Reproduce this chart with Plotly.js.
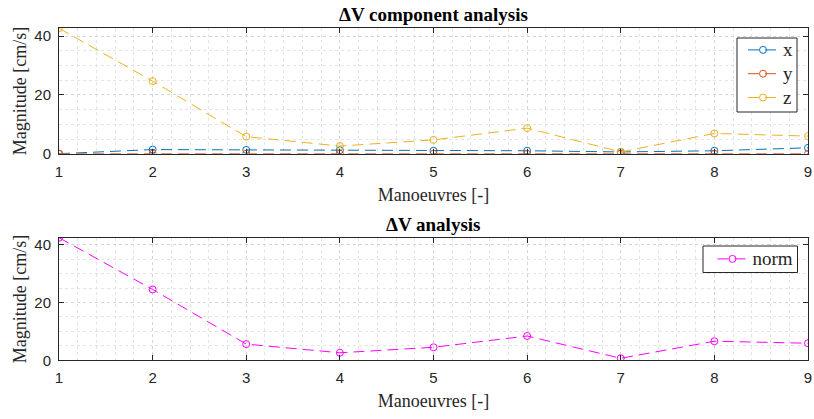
<!DOCTYPE html>
<html>
<head>
<meta charset="utf-8">
<script src="https://cdn.plot.ly/plotly-3.0.1.min.js"></script>
<style>
  html, body { margin: 0; padding: 0; background: #ffffff; }
  #chart { width: 814px; height: 419px; }
</style>
</head>
<body>
<div id="chart"></div>
<script>
// Manoeuvre index
const manoeuvres = [1, 2, 3, 4, 5, 6, 7, 8, 9];

// Delta-V components [cm/s]
const dvX = [0.0, 1.4, 1.3, 1.2, 1.0, 1.0, 0.6, 1.0, 2.0];
const dvY = [0.0, 0.0, 0.0, 0.0, 0.0, 0.0, 0.0, 0.0, 0.0];
const dvZ = [42.7, 24.7, 5.8, 2.6, 4.7, 8.7, 0.6, 6.9, 6.0];

// Delta-V magnitude [cm/s]
const dvNorm = [42.4, 24.5, 5.6, 2.6, 4.5, 8.4, 0.7, 6.6, 5.9];

// Tick labels
const xTicks = [1, 2, 3, 4, 5, 6, 7, 8, 9];
const yTicks = [0, 20, 40];

const serif = '"Liberation Serif", "Times New Roman", serif';
const sans = '"Liberation Sans", Arial, sans-serif';
const ink = '#262626';
const W = 814, H = 419;

// legend entries: slightly larger glyphs than the row spacing font
const big = s => '<span style="font-size:19px">' + s + '</span>';

function dashedTrace(y, name, color, xa, ya, legend) {
  return {
    x: manoeuvres, y: y, name: big(name), type: 'scatter', mode: 'lines+markers',
    xaxis: xa, yaxis: ya, legend: legend,
    line: { color: color, width: 1, dash: '11px,6px' },
    marker: { symbol: 'circle-open', size: 7, color: color, line: { width: 1, color: color } }
  };
}

const traces = [
  dashedTrace(dvX, 'x', '#0072BD', 'x', 'y', 'legend'),
  dashedTrace(dvY, 'y', '#D95319', 'x', 'y', 'legend'),
  dashedTrace(dvZ, 'z', '#EDB120', 'x', 'y', 'legend'),
  dashedTrace(dvNorm, 'norm', '#FF00FF', 'x2', 'y2', 'legend2')
];

function xAxis(anchor) {
  return {
    anchor: anchor, domain: [59 / W, 808 / W],
    range: [1, 9], tickvals: xTicks, ticktext: xTicks.map(String),
    ticks: 'inside', ticklen: 5, tickcolor: ink, tickwidth: 1,
    showline: true, linecolor: ink, linewidth: 1, mirror: 'ticks',
    showgrid: true, gridcolor: '#d4d4d4', griddash: 'dot', gridwidth: 1,
    minor: { dtick: 0.2, tick0: 1, showgrid: true, gridcolor: '#e4e4e4', griddash: 'dot', ticks: '' },
    zeroline: false, automargin: false,
    tickfont: { family: sans, size: 15, color: ink },
    ticklabelstandoff: 4,
    title: { text: 'Manoeuvres [-]', font: { family: serif, size: 18, color: ink }, standoff: 9 }
  };
}

function yAxis(domain, anchor, top) {
  return {
    anchor: anchor, domain: domain,
    range: [0, top], tickvals: yTicks, ticktext: yTicks.map(String),
    ticks: 'inside', ticklen: 5, tickcolor: ink, tickwidth: 1,
    showline: true, linecolor: ink, linewidth: 1, mirror: 'ticks',
    showgrid: true, gridcolor: '#d4d4d4', griddash: 'dot', gridwidth: 1,
    minor: { dtick: 5, tick0: 0, showgrid: true, gridcolor: '#e4e4e4', griddash: 'dot', ticks: '' },
    zeroline: false, automargin: false,
    tickfont: { family: sans, size: 15, color: ink },
    ticklabelstandoff: 4,
    title: { text: 'Magnitude [cm/s]', font: { family: serif, size: 18, color: ink }, standoff: 3 }
  };
}

const topMax = Math.max(...dvZ, ...dvX, ...dvY);
const botMax = Math.max(...dvNorm);

// legend entries without their own frame; the frames are drawn as shapes
const legendStyle = {
  xanchor: 'right', yanchor: 'top',
  bgcolor: 'rgba(0,0,0,0)', borderwidth: 0,
  font: { family: serif, size: 16, color: ink },
  itemwidth: 30, tracegroupgap: 0
};

function frame(x0, y0, x1, y1) {
  return {
    type: 'rect', xref: 'paper', yref: 'paper', layer: 'above',
    x0: x0 / W, x1: x1 / W, y0: 1 - y1 / H, y1: 1 - y0 / H,
    fillcolor: '#ffffff', line: { color: ink, width: 1 }
  };
}

const layout = {
  width: W, height: H,
  margin: { l: 0, r: 0, t: 0, b: 0 },
  paper_bgcolor: '#ffffff', plot_bgcolor: '#ffffff',
  showlegend: true,
  xaxis: xAxis('y'),
  yaxis: yAxis([1 - 153.7 / H, 1 - 28.3 / H], 'x', topMax),
  xaxis2: xAxis('y2'),
  yaxis2: yAxis([1 - 360.3 / H, 1 - 237.7 / H], 'x2', botMax),
  legend: Object.assign({ x: 798 / W, y: 1 - 33 / H }, legendStyle),
  legend2: Object.assign({ x: 798.5 / W, y: 1 - 242 / H }, legendStyle),
  shapes: [frame(737, 38, 797, 112), frame(703, 246, 797.5, 272.5)],
  annotations: [
    { text: '<b>ΔV component analysis</b>', xref: 'paper', yref: 'paper',
      x: 433.5 / W, y: 1 - 15 / H, xanchor: 'center', yanchor: 'middle', showarrow: false,
      font: { family: serif, size: 19, color: '#000000' } },
    { text: '<b>ΔV analysis</b>', xref: 'paper', yref: 'paper',
      x: 433.5 / W, y: 1 - 224 / H, xanchor: 'center', yanchor: 'middle', showarrow: false,
      font: { family: serif, size: 19, color: '#000000' } }
  ]
};

Plotly.newPlot('chart', traces, layout, { displayModeBar: false, staticPlot: true });
</script>
</body>
</html>
